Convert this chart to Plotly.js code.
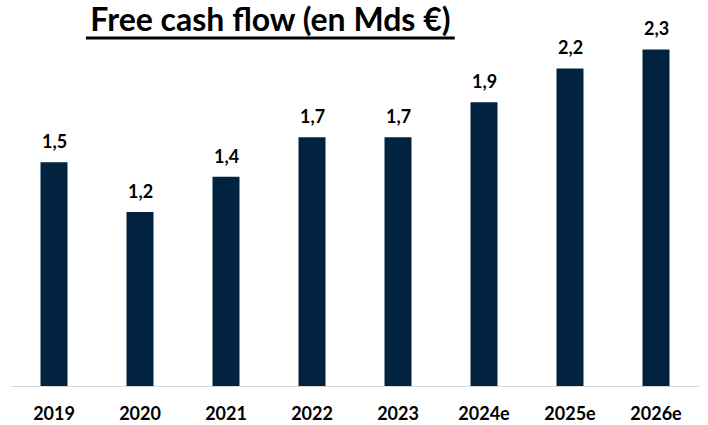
<!DOCTYPE html>
<html>
<head>
<meta charset="utf-8">
<script src="https://cdn.plot.ly/plotly-3.0.1.min.js"></script>
<style>html,body{margin:0;padding:0;background:#fff;}#chart{width:708px;height:425px;}</style>
</head>
<body>
<div id="chart"></div>
<script>
const categories = ['2019', '2020', '2021', '2022', '2023', '2024e', '2025e', '2026e'];
const values = [1.53, 1.19, 1.43, 1.70, 1.70, 1.94, 2.17, 2.30];
const labels = ['1,5', '1,2', '1,4', '1,7', '1,7', '1,9', '2,2', '2,3'];

const FONT = 'Lato, "Open Sans", sans-serif';

const trace = {
  type: 'bar',
  x: categories,
  y: values,
  marker: {color: '#012340', line: {width: 0}},
  hoverinfo: 'skip'
};

// annotations positioned by category index (serial position on the category axis)
const annotations = categories.map((c, i) => ({
  x: i, y: values[i], xref: 'x', yref: 'y',
  text: '<b>' + labels[i] + '</b>',
  showarrow: false, yanchor: 'bottom', yshift: 8,
  font: {family: FONT, size: 18, color: '#000'}
}));

const layout = {
  width: 708, height: 425,
  margin: {l: 11, r: 9, t: 0, b: 39},
  paper_bgcolor: '#fff', plot_bgcolor: '#fff',
  bargap: 0.686,
  showlegend: false,
  title: {
    text: '<b>Free cash flow (en Mds €)</b>',
    x: 0.382, xanchor: 'center', xref: 'container',
    y: 0.953, yanchor: 'middle', yref: 'container',
    font: {family: FONT, size: 32, color: '#000'}
  },
  shapes: [{
    type: 'line', xref: 'paper', yref: 'paper',
    x0: 0.109, x1: 0.645, y0: 0.9016, y1: 0.9016,
    line: {color: '#000', width: 3}
  }],
  xaxis: {
    type: 'category',
    categoryarray: categories, categoryorder: 'array',
    range: [-0.5, categories.length - 0.5],
    showline: true, linecolor: '#d9d9d9', linewidth: 1,
    ticks: '', showgrid: false, zeroline: false,
    tickfont: {family: FONT, size: 18, color: '#000', weight: 'bold'},
    ticklabelstandoff: 11,
    fixedrange: true
  },
  yaxis: {
    range: [0, 2.638],
    visible: false, showgrid: false, zeroline: false,
    fixedrange: true
  },
  annotations: annotations
};

Plotly.newPlot('chart', [trace], layout, {displayModeBar: false, staticPlot: true});
</script>
</body>
</html>
